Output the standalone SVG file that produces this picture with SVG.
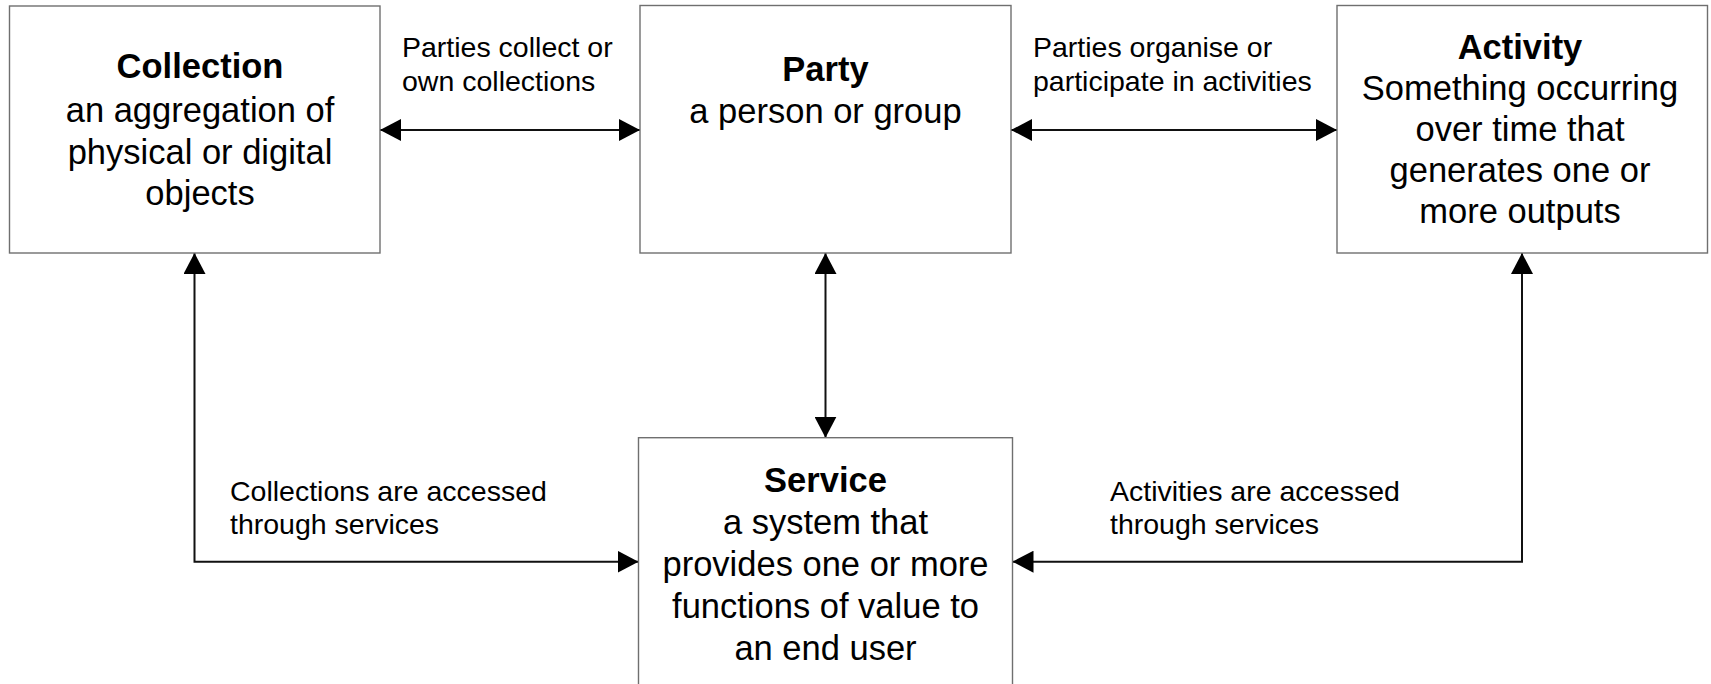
<svg xmlns="http://www.w3.org/2000/svg" width="1711" height="684" viewBox="0 0 1711 684">
<style>
.box{fill:#fff;stroke:#6f6f6f;stroke-width:1.4}
.t{font-family:"Liberation Sans",Arial,sans-serif;font-size:34.5px;fill:#000;text-anchor:middle}
.b{font-weight:bold}
.lbl{font-family:"Liberation Sans",Arial,sans-serif;font-size:28.5px;fill:#000}
.c{fill:none;stroke:#111;stroke-width:2}
</style>
<defs>
<marker id="ah" markerUnits="userSpaceOnUse" viewBox="0 0 21 22" refX="21" refY="11" markerWidth="21" markerHeight="22" orient="auto-start-reverse">
<path d="M0,0 L21,11 L0,22 z" fill="#000"/>
</marker>
</defs>
<rect width="1711" height="684" fill="#fff"/>
<g id="connectors">
<line class="c" x1="380" y1="130" x2="640" y2="130" marker-start="url(#ah)" marker-end="url(#ah)"/>
<line class="c" x1="1011" y1="130" x2="1337" y2="130" marker-start="url(#ah)" marker-end="url(#ah)"/>
<line class="c" x1="825.5" y1="253" x2="825.5" y2="437.7" marker-start="url(#ah)" marker-end="url(#ah)"/>
<path class="c" d="M194.5,253 V561.7 H638.5" marker-start="url(#ah)" marker-end="url(#ah)"/>
<path class="c" d="M1012.5,561.7 H1522 V253" marker-start="url(#ah)" marker-end="url(#ah)"/>
</g>
<g id="edge-labels">
<text class="lbl" x="402" y="57.3">Parties collect or</text>
<text class="lbl" x="402" y="90.7">own collections</text>
<text class="lbl" x="1033" y="57.3">Parties organise or</text>
<text class="lbl" x="1033" y="90.7">participate in activities</text>
<text class="lbl" x="230" y="500.7">Collections are accessed</text>
<text class="lbl" x="230" y="534.3">through services</text>
<text class="lbl" x="1110" y="500.7">Activities are accessed</text>
<text class="lbl" x="1110" y="534.3">through services</text>
</g>
<g id="collection">
<rect class="box" x="9.5" y="6" width="370.5" height="247"/>
<text class="t b" x="200" y="78">Collection</text>
<text class="t" x="200" y="122">an aggregation of</text>
<text class="t" x="200" y="163.5">physical or digital</text>
<text class="t" x="200" y="205">objects</text>
</g>
<g id="party">
<rect class="box" x="640" y="5.5" width="371" height="247.5"/>
<text class="t b" x="825.5" y="80.5">Party</text>
<text class="t" x="825.5" y="122.5">a person or group</text>
</g>
<g id="activity">
<rect class="box" x="1337" y="5.5" width="370.5" height="247.5"/>
<text class="t b" x="1520" y="59">Activity</text>
<text class="t" x="1520" y="100">Something occurring</text>
<text class="t" x="1520" y="141">over time that</text>
<text class="t" x="1520" y="182">generates one or</text>
<text class="t" x="1520" y="223">more outputs</text>
</g>
<g id="service">
<rect class="box" x="638.5" y="437.7" width="374" height="260"/>
<text class="t b" x="825.5" y="491.5">Service</text>
<text class="t" x="825.5" y="533.5">a system that</text>
<text class="t" x="825.5" y="575.5">provides one or more</text>
<text class="t" x="825.5" y="617.5">functions of value to</text>
<text class="t" x="825.5" y="659.5">an end user</text>
</g>
</svg>
